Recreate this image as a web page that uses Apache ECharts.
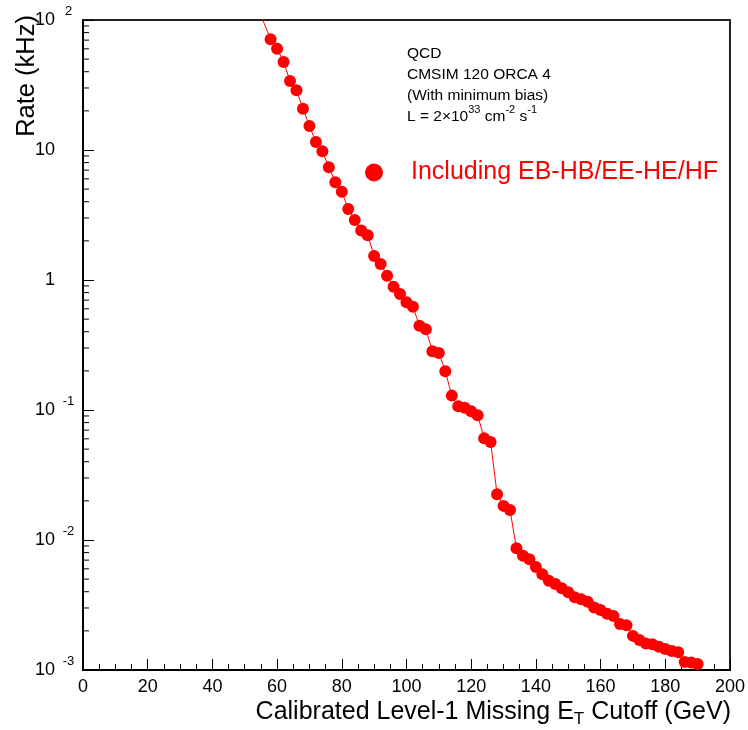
<!DOCTYPE html>
<html>
<head>
<meta charset="utf-8">
<script src="https://cdn.jsdelivr.net/npm/echarts@6/dist/echarts.min.js"></script>
<style>html,body{margin:0;padding:0;background:#fff}#c{width:748px;height:730px}</style>
</head>
<body>
<div id="c"></div>
<script>
// ---- data ----
const energies = [54, 58, 60, 62, 64, 66, 68, 70, 72, 74, 76, 78, 80,
  82, 84, 86, 88, 90, 92, 94, 96, 98, 100,
  102, 104, 106, 108, 110, 112, 114, 116, 118, 120,
  122, 124, 126, 128, 130, 132, 134, 136, 138, 140,
  142, 144, 146, 148, 150, 152, 154, 156, 158, 160,
  162, 164, 166, 168, 170, 172, 174, 176, 178, 180,
  182, 184, 186, 188, 190];
const rates = [125, 71.0, 60.1, 47.5, 34.0, 28.8, 20.8, 15.3, 11.5, 9.77, 7.36, 5.65, 4.78,
  3.52, 2.89, 2.40, 2.21, 1.53, 1.33, 1.08, 0.888, 0.780, 0.673,
  0.623, 0.445, 0.418, 0.283, 0.275, 0.199, 0.129, 0.107, 0.104, 0.0977,
  0.0910, 0.0605, 0.0567, 0.0225, 0.0183, 0.0170, 0.00865, 0.00757, 0.00711, 0.00620,
  0.00544, 0.00486, 0.00459, 0.00425, 0.00396, 0.00362, 0.00350, 0.00335, 0.00303, 0.00290,
  0.00271, 0.00260, 0.00226, 0.00221, 0.00183, 0.00170, 0.00160, 0.00158, 0.00151, 0.00145,
  0.00140, 0.00137, 0.00115, 0.00114, 0.00111];
const seriesName = 'Including EB-HB/EE-HE/HF';
const xTickLabels = ['0','20','40','60','80','100','120','140','160','180','200'];
const yDecadeExps = [-3, -2, -1, 0, 1, 2];
const infoLines = ['QCD', 'CMSIM 120 ORCA 4', '(With minimum bias)'];
const yTitle = 'Rate (kHz)';
// minor log ticks (2..9 x each decade)
const minorTickValues = [];
for (let e = -3; e < 2; e++) for (let m = 2; m <= 9; m++) minorTickValues.push(m * Math.pow(10, e));

const FONT = 'Liberation Sans, Arial, Helvetica, sans-serif';
const chart = echarts.init(document.getElementById('c'), null, {renderer: 'canvas'});

const option = {
  animation: false,
  backgroundColor: '#ffffff',
  grid: {left: 83, right: 18, top: 20, bottom: 60, show: true, borderColor: '#222', borderWidth: 2, backgroundColor: 'transparent'},
  legend: {
    data: [seriesName], left: 360, top: 155, icon: 'circle', itemWidth: 18, itemHeight: 18,
    selectedMode: false,
    textStyle: {color: '#ff0000', fontSize: 25, fontFamily: FONT, padding: [0, 0, 0, 23]}
  },
  xAxis: {
    type: 'value', min: 0, max: 200, interval: 20,
    axisLine: {show: true, lineStyle: {color: '#000', width: 2}},
    axisTick: {show: true, inside: true, length: 11, lineStyle: {color: '#000', width: 1}},
    minorTick: {show: true, splitNumber: 4, length: 6, lineStyle: {color: '#000', width: 1}},
    splitLine: {show: false},
    axisLabel: {
      margin: 8, fontSize: 18, color: '#000', fontFamily: FONT,
      formatter: function (v) { return xTickLabels[Math.round(v / 20)]; }
    }
  },
  yAxis: {
    type: 'log', logBase: 10, min: 0.001, max: 100,
    axisLine: {show: true, lineStyle: {color: '#000', width: 2}},
    axisTick: {show: true, inside: true, length: 11, lineStyle: {color: '#000', width: 1}},
    splitLine: {show: false},
    axisLabel: {
      margin: 6, color: '#000', fontFamily: FONT,
      formatter: function (v) {
        const e = Math.round(Math.log10(v));
        if (yDecadeExps.indexOf(e) < 0) return '';
        if (e === 0) return '{b|1}{s| }';
        if (e === 1) return '{b|10}{s| }';
        return '{b|10}{s|' + e + '}';
      },
      rich: {
        b: {fontSize: 18, lineHeight: 30, fontFamily: FONT, color: '#000'},
        s: {fontSize: 13, lineHeight: 13, width: 17, align: 'left', verticalAlign: 'top', fontFamily: FONT, color: '#000', padding: [0, 0, 0, 5]}
      }
    }
  },
  series: [
    {
      name: seriesName, type: 'line', clip: true,
      data: energies.map((x, i) => [x, rates[i]]),
      symbol: 'circle', symbolSize: 12,
      itemStyle: {color: '#ff0000'},
      lineStyle: {color: '#ff0000', width: 1},
      z: 5
    },
    {
      name: 'minorTicks', type: 'custom', silent: true, clip: false,
      data: minorTickValues.map(v => [0, v]),
      renderItem: function (params, api) {
        const p = api.coord([0, api.value(1)]);
        return {type: 'line', shape: {x1: p[0], y1: p[1], x2: p[0] + 6, y2: p[1]}, style: {stroke: '#000', lineWidth: 1}};
      },
      z: 3
    }
  ],
  graphic: [
    {type: 'text', left: 407, top: 46, style: {text: infoLines[0], fontSize: 15.5, fontFamily: FONT, fill: '#000'}},
    {type: 'text', left: 407, top: 67, style: {text: infoLines[1], fontSize: 15.5, fontFamily: FONT, fill: '#000'}},
    {type: 'text', left: 407, top: 88, style: {text: infoLines[2], fontSize: 15.5, fontFamily: FONT, fill: '#000'}},
    {type: 'text', left: 407, top: 104, style: {
      text: '{t|L = 2\u00d710}{u|33}{t| cm}{u|-2}{t| s}{u|-1}',
      rich: {
        t: {fontSize: 15.5, lineHeight: 26, fontFamily: FONT, color: '#000'},
        u: {fontSize: 11, lineHeight: 11, verticalAlign: 'top', fontFamily: FONT, color: '#000'}
      }
    }},
    {type: 'text', x: 27, y: 15, rotation: Math.PI / 2, style: {
      text: yTitle, fontSize: 25.5, fontFamily: FONT, fill: '#000', align: 'right', verticalAlign: 'middle'
    }},
    {type: 'text', x: 731, y: 712, style: {
      text: '{b|Calibrated Level-1 Missing E}{sub|T}{b| Cutoff (GeV)}',
      align: 'right', verticalAlign: 'middle',
      rich: {
        b: {fontSize: 25, lineHeight: 32, fontFamily: FONT, color: '#000'},
        sub: {fontSize: 17, lineHeight: 17, verticalAlign: 'bottom', fontFamily: FONT, color: '#000'}
      }
    }}
  ]
};
chart.setOption(option);
</script>
</body>
</html>
